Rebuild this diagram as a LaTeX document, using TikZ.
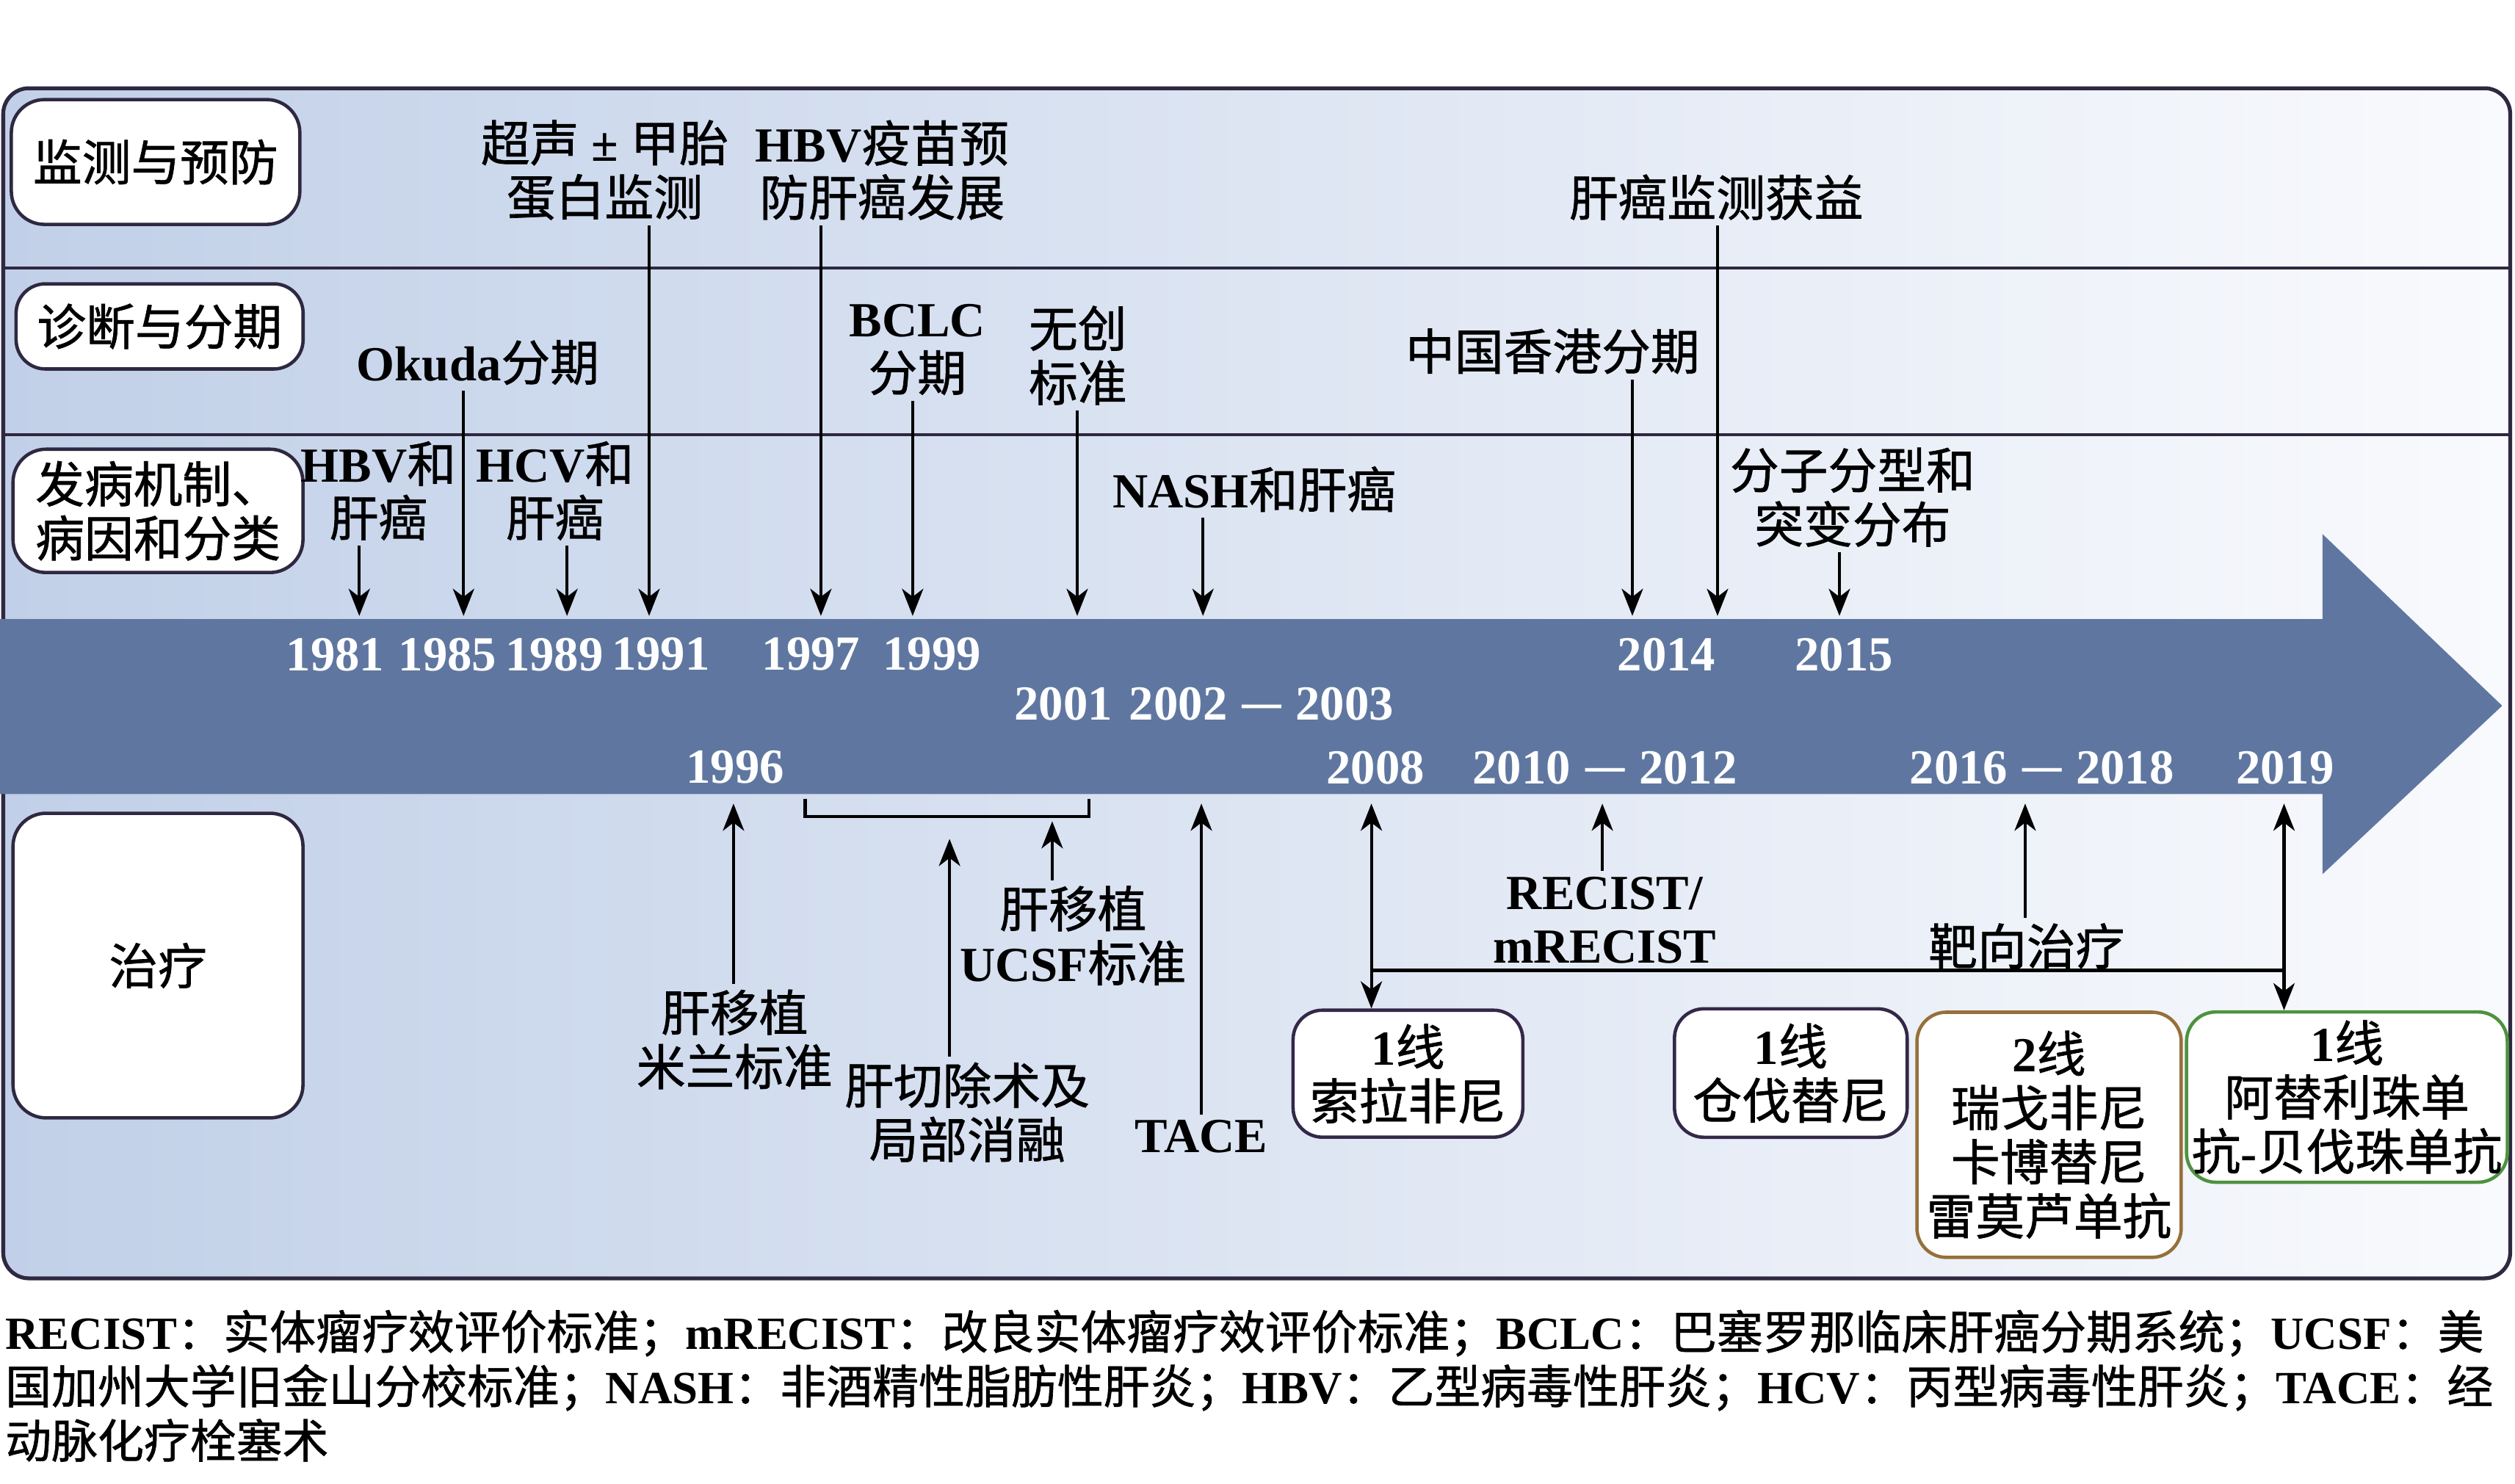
\documentclass[tikz,border=0pt]{standalone}
\usepackage{fontspec}
\setmainfont{Liberation Serif}
\newfontfamily\cjk{Noto Sans CJK SC}[FakeBold=1]
\usetikzlibrary{arrows.meta}

% switch to the CJK font for Chinese characters
\newcount\cjkcode
\XeTeXinterchartokenstate=1
\newXeTeXintercharclass\cjkclass
\cjkcode="4E00
\loop
  \XeTeXcharclass\cjkcode=\cjkclass
  \advance\cjkcode by 1
\ifnum\cjkcode<"A000 \repeat
\XeTeXcharclass"3001=\cjkclass
\XeTeXcharclass"FF1A=\cjkclass
\XeTeXcharclass"FF1B=\cjkclass
\XeTeXcharclass"2014=\cjkclass
\XeTeXinterchartoks 0 \cjkclass={\cjk\mdseries}
\XeTeXinterchartoks 4095 \cjkclass={\cjk\mdseries}
\XeTeXinterchartoks \cjkclass 0={\rmfamily\bfseries}
\XeTeXinterchartoks \cjkclass 4095={\rmfamily\bfseries}

\newcommand{\dashto}{\hspace{0.25em}—\hspace{0.25em}}

\definecolor{framec}{RGB}{46,40,64}
\definecolor{bandc}{RGB}{95,119,160}
\definecolor{bgleft}{RGB}{193,208,232}
\definecolor{bgright}{RGB}{249,250,253}
\definecolor{sorc}{RGB}{52,40,72}
\definecolor{regc}{RGB}{150,112,58}
\definecolor{atec}{RGB}{78,146,62}

\begin{document}
\begin{tikzpicture}[x=0.021843cm, y=-0.021843cm, font=\fontsize{19}{21}\selectfont\bfseries, >={Stealth[length=0.37cm,width=0.29cm,inset=0.11cm]}]
		\tikzstyle{stage}=[draw=framec, fill=white, line width=1.3pt, rounded corners=0.45cm, inner sep=2pt, align=center]
		\tikzstyle{drug}=[stage, rounded corners=0.4cm]
		\tikzstyle{event}=[inner sep=2pt, align=center]
		\tikzstyle{year}=[inner sep=0pt, text=white]
		\tikzstyle{arr}=[->, line width=1.2pt]
		\tikzstyle{row}=[draw=framec, line width=1.3pt]

		\useasboundingbox (0,0) rectangle (1568,925);

		% Draw background, rows and time band
		\path[draw=framec, line width=1.5pt, rounded corners=0.35cm, left color=bgleft, right color=bgright] (2,55) rectangle (1565,797);
		\draw[row] (2,167) -- (1565,167);
		\draw[row] (2,271) -- (1565,271);
		\fill[bandc] (0,386) -- (1448,386) -- (1448,333) -- (1560,440) -- (1448,545) -- (1448,495) -- (0,495) -- cycle;

		% Draw row labels
		\node[stage, minimum width=3.93cm, minimum height=1.70cm] (mon) at (97,101) {监测与预防};
		\node[stage, minimum width=3.91cm, minimum height=1.16cm, rounded corners=0.4cm] (dia) at (99.5,203.5) {诊断与分期};
		\node[stage, minimum width=3.95cm, minimum height=1.68cm] (pat) at (98.5,318.5) {发病机制、\\病因和分类};
		\node[stage, minimum width=3.95cm, minimum height=4.15cm] (tre) at (98.5,602) {治疗};

		% Draw years
		\node[year] (y1981) at (209,408) {1981};
		\node[year] (y1985) at (279,408) {1985};
		\node[year] (y1989) at (345.6,408) {1989};
		\node[year] (y1991) at (412,408) {1991};
		\node[year] (y1997) at (505.7,408) {1997};
		\node[year] (y1999) at (581,408) {1999};
		\node[year] (y2014) at (1039,408) {2014};
		\node[year] (y2015) at (1149.6,408) {2015};
		\node[year] (y2001) at (663,439) {2001};
		\node[year] (y2002) at (786.5,439) {2002\dashto 2003};
		\node[year] (y1996) at (458.4,478.5) {1996};
		\node[year] (y2008) at (857.5,478.5) {2008};
		\node[year] (y2010) at (1000.6,478.5) {2010\dashto 2012};
		\node[year] (y2016) at (1273,478.5) {2016\dashto 2018};
		\node[year] (y2019) at (1424.6,478.5) {2019};

		% Draw events above the band
		\node[event] (us) at (377,106) {超声 ± 甲胎\\蛋白监测};
		\node[event] (hbvvac) at (550,106) {HBV疫苗预\\防肝癌发展};
		\node[event] (surv) at (1070,123) {肝癌监测获益};
		\node[event] (okuda) at (298,226) {Okuda分期};
		\node[event] (bclc) at (572,218) {BCLC\\分期};
		\node[event] (noninv) at (672,221.6) {无创\\标准};
		\node[event] (hk) at (968,219) {中国香港分期};
		\node[event] (hbv) at (236,306) {HBV和\\肝癌};
		\node[event] (hcv) at (346,306) {HCV和\\肝癌};
		\node[event] (nash) at (782,305) {NASH和肝癌};
		\node[event] (mol) at (1155,310) {分子分型和\\突变分布};

		\coordinate (e1981) at (224,384);
		\coordinate (e1985) at (289,384);
		\coordinate (e1989) at (353.5,384);
		\coordinate (e1991) at (404.7,384);
		\coordinate (e1997) at (511.8,384);
		\coordinate (e1999) at (569,384);
		\coordinate (e2001) at (671.6,384);
		\coordinate (e2002) at (750,384);
		\coordinate (e2014a) at (1017.7,384);
		\coordinate (e2014b) at (1070.8,384);
		\coordinate (e2015) at (1146.8,384);

		\draw[arr] (hbv.south -| e1981) -- (e1981);
		\draw[arr] (okuda.south -| e1985) -- (e1985);
		\draw[arr] (hcv.south -| e1989) -- (e1989);
		\draw[arr] (us.south -| e1991) -- (e1991);
		\draw[arr] (hbvvac.south -| e1997) -- (e1997);
		\draw[arr] (bclc.south -| e1999) -- (e1999);
		\draw[arr] (noninv.south -| e2001) -- (e2001);
		\draw[arr] (nash.south -| e2002) -- (e2002);
		\draw[arr] (hk.south -| e2014a) -- (e2014a);
		\draw[arr] (surv.south -| e2014b) -- (e2014b);
		\draw[arr] (mol.south -| e2015) -- (e2015);

		% Draw treatments below the band
		\node[event] (milan) at (458,648) {肝移植\\米兰标准};
		\node[event] (ucsf) at (669,583.3) {肝移植\\UCSF标准};
		\node[event] (resect) at (603,693.4) {肝切除术及\\局部消融};
		\node[event] (tace) at (749,708.7) {TACE};
		\node[event] (recist) at (1000.5,573.7) {RECIST/\\mRECIST};
		\node[event] (target) at (1263.5,589.8) {靶向治疗};

		\node[drug, draw=sorc, minimum width=3.13cm, minimum height=1.73cm] (sor) at (877.8,669.4) {1线\\索拉非尼};
		\node[drug, draw=sorc, minimum width=3.17cm, minimum height=1.75cm] (len) at (1116.5,669) {1线\\仓伐替尼};
		\node[drug, draw=regc, minimum width=3.60cm, minimum height=3.34cm] (reg) at (1277.5,707.5) {2线\\瑞戈非尼\\卡博替尼\\雷莫芦单抗};
		\node[drug, draw=atec, minimum width=4.29cm, minimum height=2.32cm] (ate) at (1463.2,684) {1线\\阿替利珠单\\抗-贝伐珠单抗};

		\coordinate (b1996) at (457.3,501);
		\coordinate (b2002) at (749,501);
		\coordinate (b2008) at (855,501);
		\coordinate (b2010) at (999,501);
		\coordinate (b2016) at (1262.6,501);
		\coordinate (b2019) at (1424,501);
		\coordinate (brl) at (502,498);
		\coordinate (brr) at (679,498);
		\coordinate (ucsfend) at (656,512);
		\coordinate (resend) at (592,523);
		\coordinate (h2008) at (855,605);
		\coordinate (h2019) at (1424,605);

		\draw[line width=1.3pt] (brl) |- (ucsfend |- 0,509) -| (brr);
		\draw[arr] (milan.north -| b1996) -- (b1996);
		\draw[arr] (ucsf.north -| ucsfend) -- (ucsfend);
		\draw[arr] (resect.north -| resend) -- (resend);
		\draw[arr] (tace.north) -- (b2002);
		\draw[arr] (recist.north -| b2010) -- (b2010);
		\draw[arr] (target.north -| b2016) -- (b2016);
		\draw[arr, <->] (sor.north -| b2008) -- (b2008);
		\draw[arr, <->] (ate.north -| b2019) -- (b2019);
		\draw[line width=1.4pt] (h2008) -- (h2019);

		% Abbreviations
		\node[anchor=west, align=left, inner sep=0pt, font=\fontsize{17.9}{21.1}\selectfont\bfseries] (legend) at (3,864) {RECIST：实体瘤疗效评价标准；mRECIST：改良实体瘤疗效评价标准；BCLC：巴塞罗那临床肝癌分期系统；UCSF：美\\国加州大学旧金山分校标准；NASH：非酒精性脂肪性肝炎；HBV：乙型病毒性肝炎；HCV：丙型病毒性肝炎；TACE：经\\动脉化疗栓塞术};

		\end{tikzpicture}
\end{document}
